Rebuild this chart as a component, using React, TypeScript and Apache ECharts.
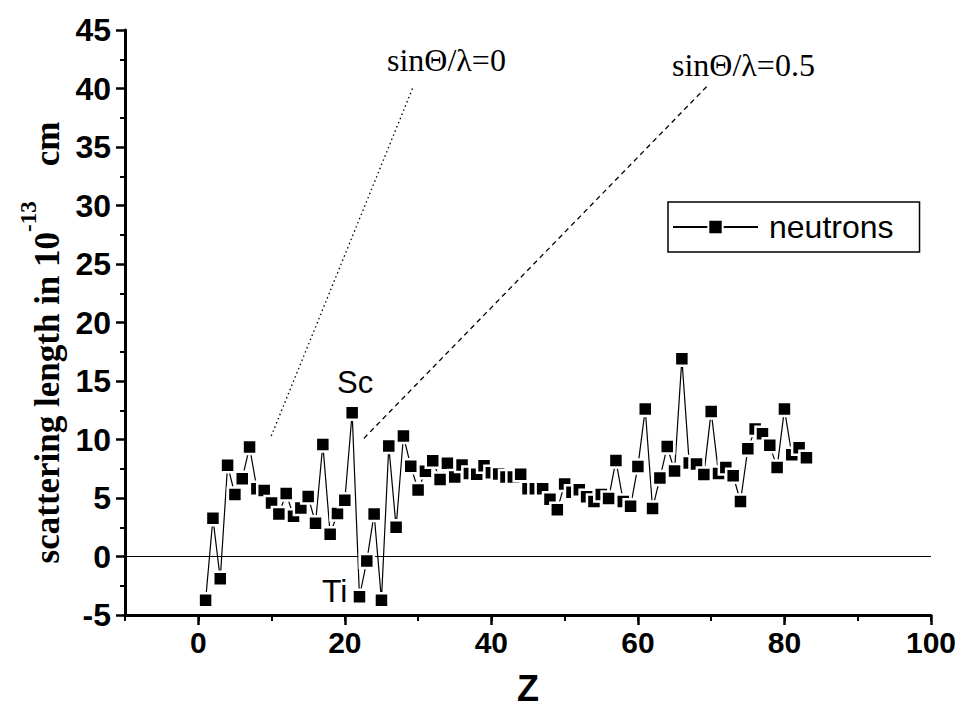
import React, { useEffect, useRef } from 'react';
import * as echarts from 'echarts';

// Atomic number Z
const atomicNumbers = [
  1, 2, 3, 4, 5, 6, 7, 8, 9, 10,
  11, 12, 13, 14, 15, 16, 17, 18, 19, 20,
  21, 22, 23, 24, 25, 26, 27, 28, 29, 30,
  31, 32, 33, 34, 35, 36, 37, 38, 39, 40,
  41, 42, 43, 44, 45, 46, 47, 48, 49, 50,
  51, 52, 53, 54, 55, 56, 57, 58, 59, 60,
  61, 62, 63, 64, 65, 66, 67, 68, 69, 70,
  71, 72, 73, 74, 75, 76, 77, 78, 79, 80,
  81, 82, 83,
];

// neutron scattering length (10^-13 cm)
const neutronLengths = [
  -3.74, 3.26, -1.9, 7.79, 5.3, 6.65, 9.36, 5.8, 5.65, 4.57,
  3.63, 5.38, 3.45, 4.15, 5.13, 2.85, 9.58, 1.91, 3.67, 4.8,
  12.29, -3.44, -0.38, 3.64, -3.73, 9.45, 2.49, 10.3, 7.72, 5.68,
  7.29, 8.19, 6.58, 7.97, 6.8, 7.81, 7.09, 7.02, 7.75, 7.16,
  7.05, 6.8, 6.8, 7.03, 5.8, 5.8, 5.8, 4.9, 4.0, 6.2,
  5.5, 5.7, 5.1, 4.7, 5.3, 4.95, 8.2, 4.7, 4.3, 7.7,
  12.6, 4.1, 6.7, 9.4, 7.3, 16.9, 8.0, 7.9, 7.0, 12.4,
  7.1, 7.6, 6.9, 4.7, 9.2, 10.9, 10.5, 9.5, 7.6, 12.6,
  8.7, 9.3, 8.45,
];

// annotation lines (data coordinates)
const lineSin0 = [[9.96, 10.3], [29.3, 40.1]];
const lineSin05 = [[22.6, 10.1], [69.6, 40.3]];

// axis extents and labelled ticks
const xRange = [-10, 100];
const yRange = [-5, 45];
const xMajorTicks = [0, 20, 40, 60, 80, 100];

export default function App() {
  const ref = useRef<HTMLDivElement>(null);

  useEffect(() => {
    if (!ref.current) return;
    const chart = echarts.init(ref.current, null, { renderer: 'svg' });
    const sans = 'Liberation Sans, Arial, sans-serif';
    const serif = 'Liberation Serif, Times New Roman, serif';
    const pts = atomicNumbers.map((z, i) => [z, neutronLengths[i]]);

    const option: any = {
      animation: false,
      backgroundColor: '#fff',
      grid: { left: 125, right: 29, top: 30, bottom: 103, containLabel: false },
      legend: {
        data: ['neutrons'],
        left: 668,
        top: 202,
        orient: 'horizontal',
        padding: [8, 26, 8, 4],
        borderColor: '#000',
        borderWidth: 1.5,
        itemWidth: 85,
        itemHeight: 18,
        selectedMode: false,
        textStyle: { fontFamily: sans, fontSize: 32, color: '#000', lineHeight: 34, padding: [0, 0, 0, 6] },
      },
      xAxis: [
        {
          type: 'value', min: xRange[0], max: xRange[1], interval: 10, position: 'bottom',
          splitLine: { show: false },
          axisLine: { show: true, onZero: false, lineStyle: { color: '#000', width: 3 } },
          axisTick: { show: true, customValues: xMajorTicks, length: 10, lineStyle: { color: '#000', width: 2.5 } },
          axisLabel: { customValues: xMajorTicks, margin: 12, fontFamily: sans, fontWeight: 'bold', fontSize: 30, color: '#000' },
          name: 'Z', nameLocation: 'middle', nameGap: 55,
          nameTextStyle: { fontFamily: sans, fontWeight: 'bold', fontSize: 36, color: '#000' },
        },
        {
          type: 'value', min: xRange[0], max: xRange[1], interval: 10, position: 'bottom',
          splitLine: { show: false },
          axisLine: { show: false, onZero: false },
          axisTick: { show: true, length: 6, lineStyle: { color: '#000', width: 2 } },
          axisLabel: { show: false },
        },
      ],
      yAxis: {
        type: 'value', min: yRange[0], max: yRange[1], interval: 5,
        splitLine: { show: false },
        axisLine: { show: true, onZero: false, lineStyle: { color: '#000', width: 3 } },
        axisTick: { show: true, length: 9, lineStyle: { color: '#000', width: 2.5 } },
        minorTick: { show: true, splitNumber: 2, length: 5, lineStyle: { color: '#000', width: 2 } },
        axisLabel: { margin: 14, fontFamily: sans, fontWeight: 'bold', fontSize: 32, color: '#000' },
        name: '{t|scattering length in 10}{s|-13}{t|    cm}{g| }',
        nameLocation: 'middle',
        nameGap: 45,
        nameTextStyle: {
          rich: {
            t: { fontFamily: serif, fontWeight: 'bold', fontSize: 35, lineHeight: 60, color: '#000', verticalAlign: 'middle' },
            s: { fontFamily: serif, fontWeight: 'bold', fontSize: 23, lineHeight: 23, color: '#000', verticalAlign: 'top' },
            g: { fontSize: 10, width: 40, lineHeight: 10 },
          },
        },
      },
      series: [
        {
          name: 'neutrons', type: 'line', xAxisIndex: 0, data: pts,
          symbol: 'rect', symbolSize: 14,
          lineStyle: { color: '#000', width: 1.2 },
          itemStyle: { color: '#000', borderColor: '#fff', borderWidth: 2.5 },
          z: 5,
          markLine: {
            silent: true, symbol: ['none', 'none'], label: { show: false },
            lineStyle: { color: '#000', width: 1, type: 'solid' },
            data: [{ yAxis: 0 }],
          },
        },
        { name: 'sin0', type: 'line', data: lineSin0, symbol: 'none',
          lineStyle: { color: '#000', width: 1.3, type: [1.5, 3] }, z: 2 },
        { name: 'sin05', type: 'line', data: lineSin05, symbol: 'none',
          lineStyle: { color: '#000', width: 1.3, type: [5, 4] }, z: 2 },
      ],
      graphic: [
        { type: 'text', x: 387, y: 59.5,
          style: { text: 'sinΘ/λ=0', font: `32px ${serif}`, fill: '#000', align: 'left', verticalAlign: 'middle' } },
        { type: 'text', x: 672, y: 64.5,
          style: { text: 'sinΘ/λ=0.5', font: `32px ${serif}`, fill: '#000', align: 'left', verticalAlign: 'middle' } },
        { type: 'text', x: 337, y: 382,
          style: { text: 'Sc', font: `31px ${sans}`, fill: '#000', align: 'left', verticalAlign: 'middle' } },
        { type: 'text', x: 322, y: 591,
          style: { text: 'Ti', font: `32px ${sans}`, fill: '#000', align: 'left', verticalAlign: 'middle' } },
      ],
    };

    chart.setOption(option);
    return () => chart.dispose();
  }, []);

  return (
    <div ref={ref} style={{ position: 'fixed', left: 0, top: 0, width: 960, height: 718, background: '#fff' }} />
  );
}
